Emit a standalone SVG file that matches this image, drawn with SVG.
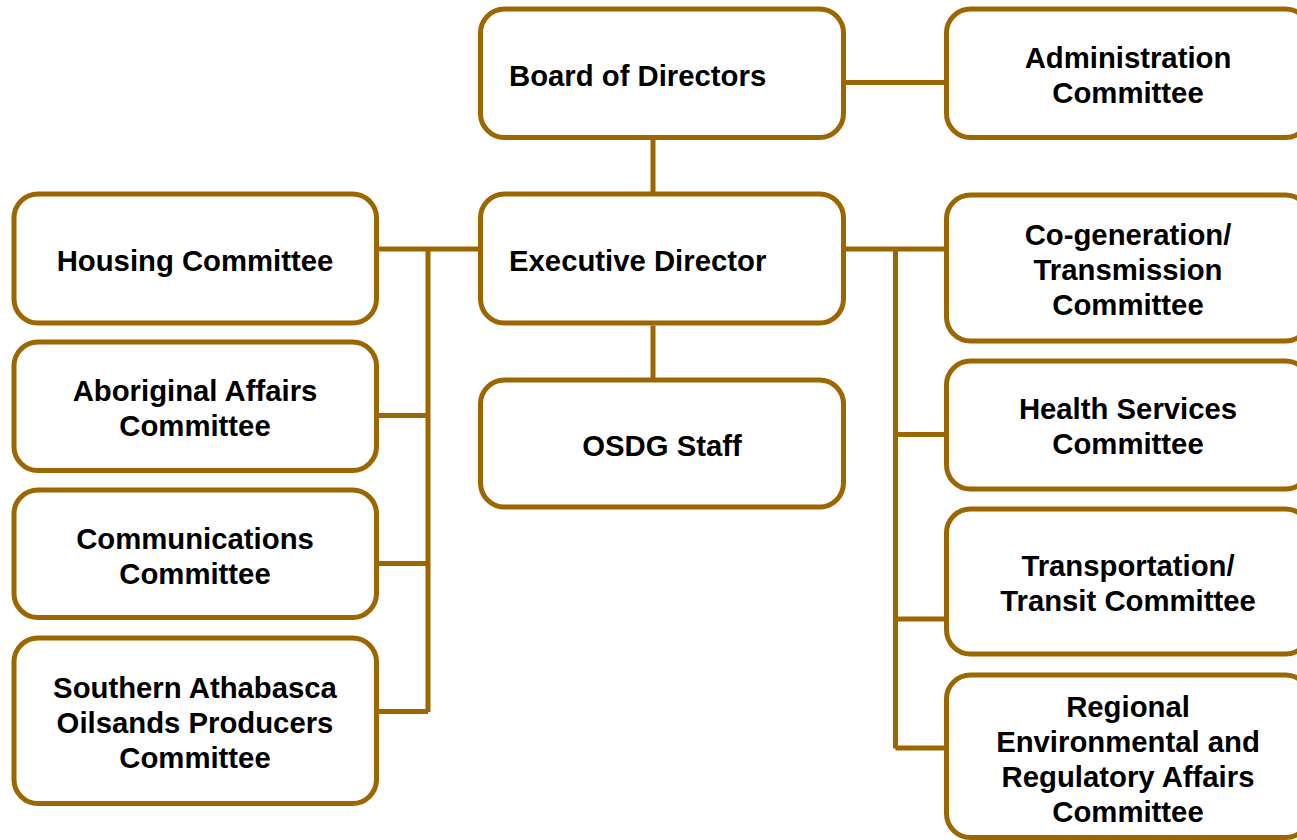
<svg xmlns="http://www.w3.org/2000/svg" width="1297" height="840" viewBox="0 0 1297 840">
<style>
.box{fill:#fff;stroke:#9C6600;stroke-width:5}
.ln{stroke:#9C6600;stroke-width:5;fill:none}
text{font-family:"Liberation Sans",Arial,sans-serif;font-weight:bold;font-size:29.3px;fill:#000}
.c{text-anchor:middle}
</style>
<rect width="1297" height="840" fill="#fff"/>
<g id="connectors">
<path class="ln" d="M846 82.5H946.5"/>
<path class="ln" d="M653 139.5V194"/>
<path class="ln" d="M653 325.5V378"/>
<path class="ln" d="M379 249H478"/>
<path class="ln" d="M428 249V712"/>
<path class="ln" d="M379 415.5H428M379 563.5H428M379 711.5H428"/>
<path class="ln" d="M846 249H944"/>
<path class="ln" d="M895.5 249V748.5"/>
<path class="ln" d="M895.5 434.5H944M895.5 619H944M895.5 748H944"/>
</g>
<g id="board"><rect class="box" x="480.5" y="9" width="363" height="128.5" rx="24"/><text x="509" y="86">Board of Directors</text></g>
<g id="admin"><rect class="box" x="946.5" y="9" width="363" height="128.5" rx="24"/><text class="c" x="1128" y="68">Administration</text><text class="c" x="1128" y="103">Committee</text></g>
<g id="exec"><rect class="box" x="480.5" y="194" width="363" height="129" rx="24"/><text x="509" y="271">Executive Director</text></g>
<g id="housing"><rect class="box" x="14" y="194" width="362.5" height="129" rx="24"/><text class="c" x="195" y="271">Housing Committee</text></g>
<g id="cogen"><rect class="box" x="946.5" y="195" width="363" height="146" rx="24"/><text class="c" x="1128" y="245">Co-generation/</text><text class="c" x="1128" y="280">Transmission</text><text class="c" x="1128" y="315">Committee</text></g>
<g id="aboriginal"><rect class="box" x="14" y="342" width="362.5" height="128.5" rx="24"/><text class="c" x="195" y="401">Aboriginal Affairs</text><text class="c" x="195" y="436">Committee</text></g>
<g id="osdg"><rect class="box" x="480.5" y="380" width="363" height="127" rx="24"/><text class="c" x="662" y="456">OSDG Staff</text></g>
<g id="health"><rect class="box" x="946.5" y="361" width="363" height="128" rx="24"/><text class="c" x="1128" y="419">Health Services</text><text class="c" x="1128" y="454">Committee</text></g>
<g id="comms"><rect class="box" x="14" y="490" width="362.5" height="127.5" rx="24"/><text class="c" x="195" y="549">Communications</text><text class="c" x="195" y="584">Committee</text></g>
<g id="transport"><rect class="box" x="946.5" y="509" width="363" height="145" rx="24"/><text class="c" x="1128" y="576">Transportation/</text><text class="c" x="1128" y="611">Transit Committee</text></g>
<g id="southern"><rect class="box" x="14" y="638" width="362.5" height="165.5" rx="24"/><text class="c" x="195" y="698">Southern Athabasca</text><text class="c" x="195" y="733">Oilsands Producers</text><text class="c" x="195" y="768">Committee</text></g>
<g id="regional"><rect class="box" x="946.5" y="675" width="363" height="162.5" rx="24"/><text class="c" x="1128" y="717">Regional</text><text class="c" x="1128" y="752">Environmental and</text><text class="c" x="1128" y="787">Regulatory Affairs</text><text class="c" x="1128" y="822">Committee</text></g>
</svg>
